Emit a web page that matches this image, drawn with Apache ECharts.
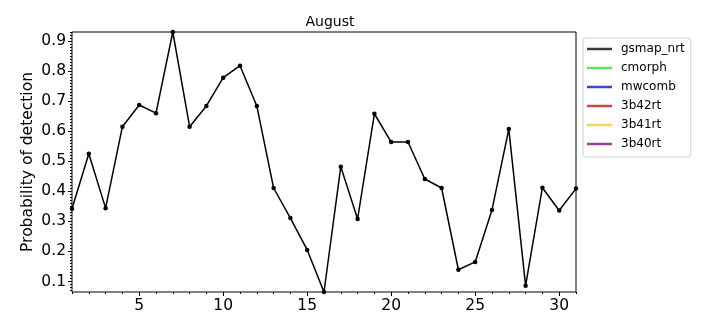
<!DOCTYPE html>
<html>
<head>
<meta charset="utf-8">
<script src="https://cdn.jsdelivr.net/npm/echarts@6/dist/echarts.min.js"></script>
<style>
html,body{margin:0;padding:0;background:#fff;}
#chart{width:720px;height:324px;}
</style>
</head>
<body>
<div id="chart"></div>
<script>
const days = [1,2,3,4,5,6,7,8,9,10,11,12,13,14,15,16,17,18,19,20,21,22,23,24,25,26,27,28,29,30,31];
const gsmapNrt = [0.342,0.525,0.344,0.615,0.687,0.660,0.930,0.615,0.684,0.778,0.818,0.684,0.411,0.311,0.205,0.065,0.482,0.308,0.658,0.564,0.564,0.441,0.411,0.139,0.165,0.338,0.607,0.086,0.412,0.336,0.409];
const seriesNames = ['gsmap_nrt','cmorph','mwcomb','3b42rt','3b41rt','3b40rt'];
const seriesColors = ['#3a3a3a','#5fe45f','#4242cc','#cc4646','#f2d65c','#944294'];
const xTickLabels = [5,10,15,20,25,30];
const yTickLabels = [0.1,0.2,0.3,0.4,0.5,0.6,0.7,0.8,0.9];

const yMin = Math.min(...gsmapNrt);
const yMax = Math.max(...gsmapNrt);
const xMinor = days.slice();
const yMinor = [];
for (let i = Math.ceil(yMin*100); i <= Math.floor(yMax*100); i++) yMinor.push(i/100);

const font = 'DejaVu Sans';
const chart = echarts.init(document.getElementById('chart'), null, {renderer:'canvas'});

const series = seriesNames.map((n,i) => ({
  name: n,
  type: 'line',
  data: i === 0 ? days.map((d,j)=>[d, gsmapNrt[j]]) : [],
  xAxisIndex: 0, yAxisIndex: 0,
  symbol: 'circle',
  symbolSize: 4.5,
  showSymbol: true,
  lineStyle: {color: i===0 ? '#000' : seriesColors[i], width: 1.5},
  itemStyle: {color: i===0 ? '#000' : seriesColors[i]},
  color: seriesColors[i],
  animation: false,
  z: 3
}));

chart.setOption({
  animation: false,
  backgroundColor: '#fff',
  title: {
    text: 'August', left: 325, top: 10, textAlign: 'center',
    textStyle: {fontFamily: font, fontSize: 14, fontWeight: 'normal', color: '#000'}
  },
  grid: {left: 72, right: 144, top: 32, bottom: 32, show: true, borderColor: '#000', borderWidth: 1, backgroundColor: 'transparent'},
  legend: {
    orient: 'vertical', left: 583, top: 38,
    data: seriesNames.map((n,i)=>({name:n, itemStyle:{color: seriesColors[i]}})),
    icon: 'rect', itemWidth: 25, itemHeight: 2.5, itemGap: 7,
    padding: [5, 6, 7, 4],
    borderColor: '#d0d0d0', borderWidth: 1, borderRadius: 3,
    textStyle: {fontFamily: font, fontSize: 12, color: '#000', padding: [0,0,0,4]},
    selectedMode: false
  },
  xAxis: [
    {type:'value', min:1, max:31, position:'bottom',
     axisLine:{show:false}, splitLine:{show:false},
     axisTick:{show:true, customValues: xTickLabels, length:4, lineStyle:{color:'#000'}},
     axisLabel:{show:true, customValues: xTickLabels, fontFamily: font, fontSize: 15.5, color:'#000', margin: 6}},
    {type:'value', min:1, max:31, position:'bottom',
     axisLine:{show:false}, splitLine:{show:false},
     axisTick:{show:true, customValues: xMinor, length:2, lineStyle:{color:'#000'}},
     axisLabel:{show:false}}
  ],
  yAxis: [
    {type:'value', min:yMin, max:yMax, position:'left',
     name: 'Probability of detection', nameLocation:'middle', nameGap: 36, nameRotate: 90,
     nameMoveOverlap: false,
     nameTextStyle:{fontFamily: font, fontSize: 15.5, color:'#000'},
     axisLine:{show:false}, splitLine:{show:false},
     axisTick:{show:true, customValues: yTickLabels, length:4, lineStyle:{color:'#000'}},
     axisLabel:{show:true, customValues: yTickLabels, fontFamily: font, fontSize: 15.5, color:'#000', margin: 6,
       formatter: v => v.toFixed(1)}},
    {type:'value', min:yMin, max:yMax, position:'left',
     axisLine:{show:false}, splitLine:{show:false},
     axisTick:{show:true, customValues: yMinor, length:2, lineStyle:{color:'#000'}},
     axisLabel:{show:false}}
  ],
  series: series
});
</script>
</body>
</html>
